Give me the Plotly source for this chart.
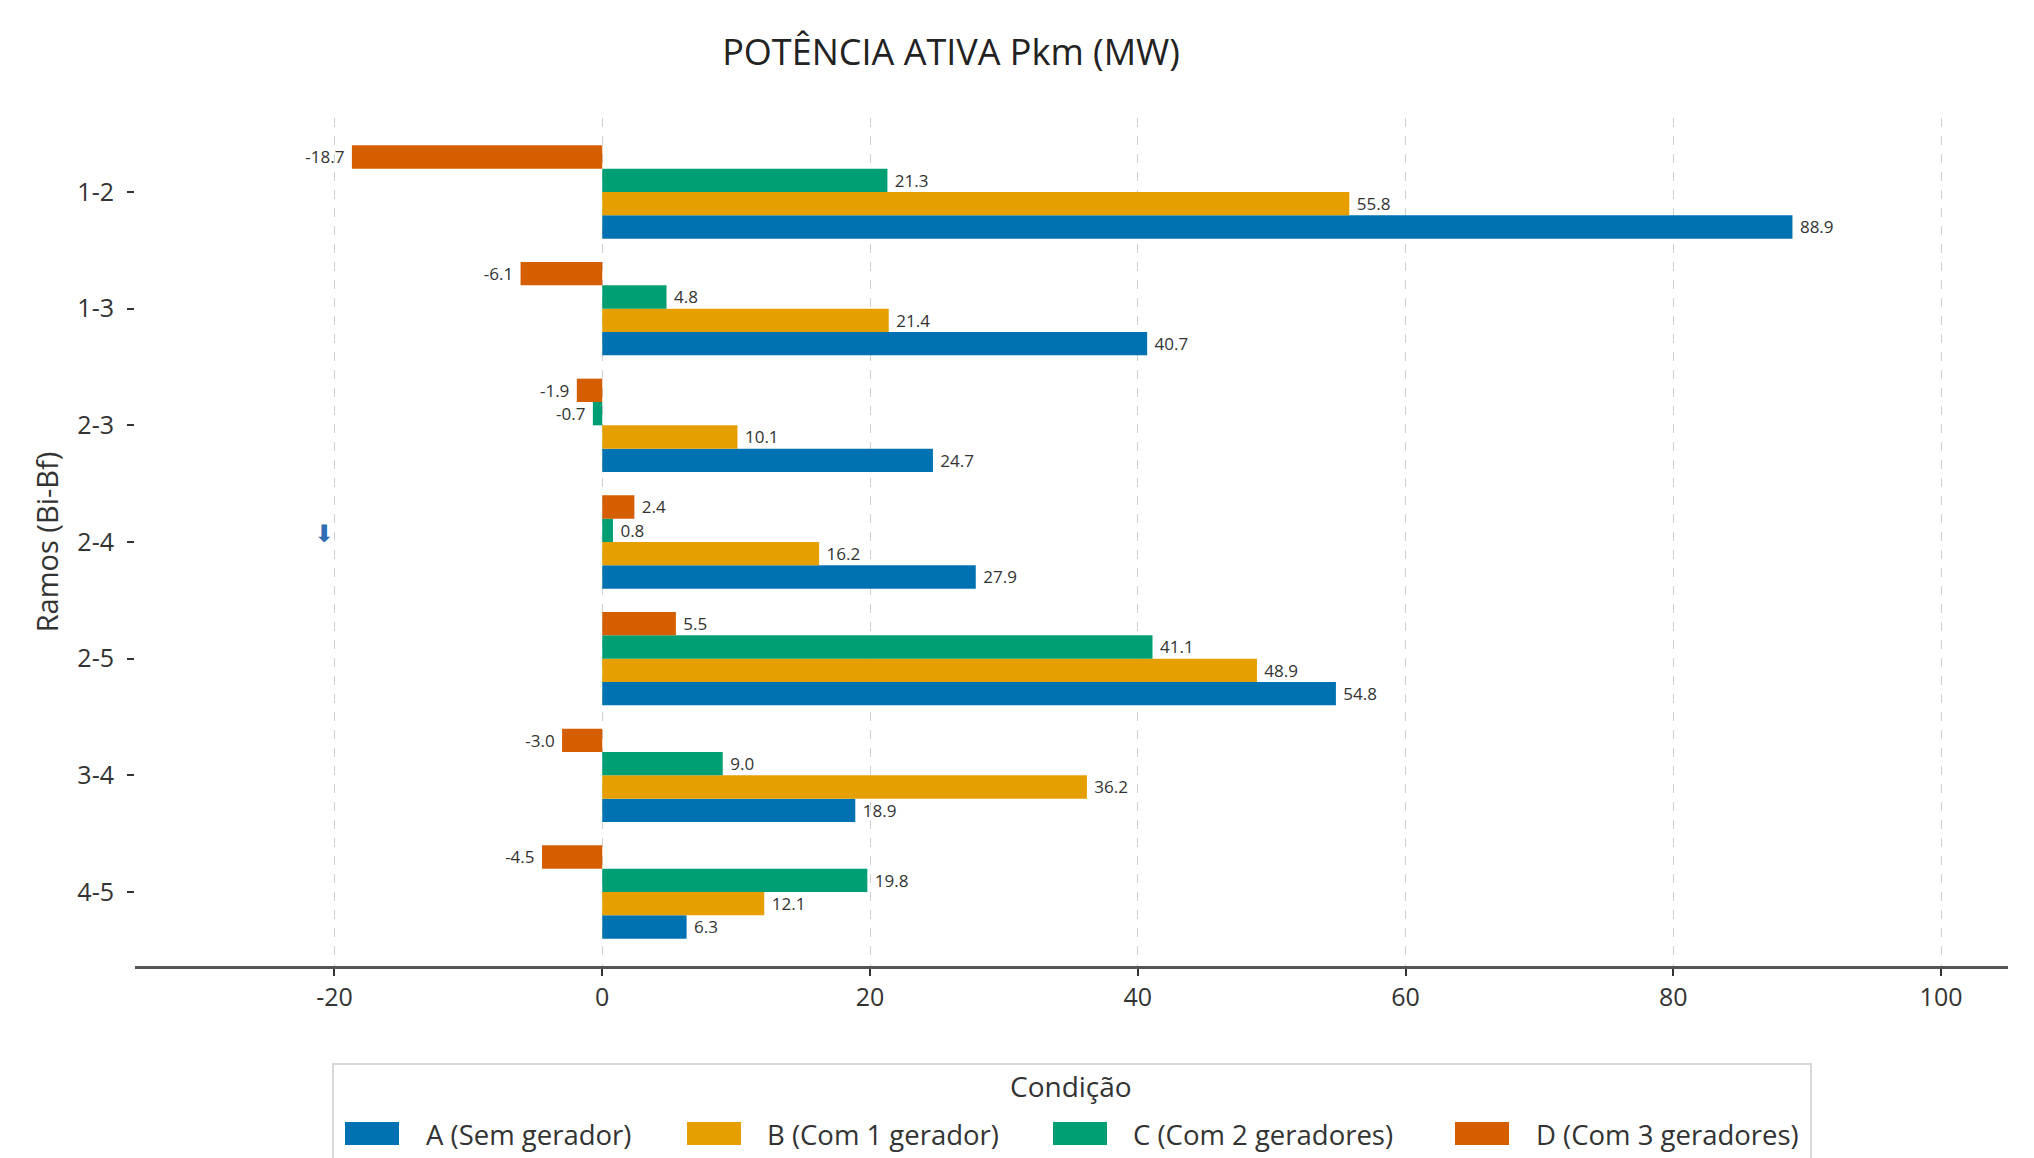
import plotly.graph_objects as go

branches = ["1-2", "1-3", "2-3", "2-4", "2-5", "3-4", "4-5"]
series_names = ["A (Sem gerador)", "B (Com 1 gerador)", "C (Com 2 geradores)", "D (Com 3 geradores)"]
vals_A = [88.9, 40.7, 24.7, 27.9, 54.8, 18.9, 6.3]
vals_B = [55.8, 21.4, 10.1, 16.2, 48.9, 36.2, 12.1]
vals_C = [21.3, 4.8, -0.7, 0.8, 41.1, 9.0, 19.8]
vals_D = [-18.7, -6.1, -1.9, 2.4, 5.5, -3.0, -4.5]
colors = ["#0072B2", "#E69F00", "#009E73", "#D55E00"]
x_ticks = [-20, 0, 20, 40, 60, 80, 100]

FONT = "Open Sans, Roboto, sans-serif"
W, H = 2034, 1158
ML, MR, MT, MB = 135, 26, 118, 192
PW, PH = W - ML - MR, H - MT - MB


def px_x(X):
    return (X - ML) / PW


def px_y(Y):
    return (H - MB - Y) / PH


def label(v):
    return f" {v:.1f}" if v >= 0 else f"{v:.1f} "


fig = go.Figure()
for name, vals, col in zip(series_names, [vals_A, vals_B, vals_C, vals_D], colors):
    fig.add_trace(go.Bar(
        y=branches, x=vals, name=name, orientation="h",
        marker=dict(color=col, line=dict(width=0)),
        text=[label(v) for v in vals], textposition="outside",
        textfont=dict(size=19, color="#333333", family=FONT),
        cliponaxis=False, showlegend=False,
    ))

fig.add_annotation(x=-20.8, y="2-4", text="⬇", showarrow=False, yshift=8,
                   font=dict(size=24, color="#2f6db5", family="DejaVu Sans"))

# legend drawn as shapes + text
shapes = [dict(type="rect", xref="paper", yref="paper",
               x0=px_x(333), x1=px_x(1811), y0=px_y(1175), y1=px_y(1064),
               line=dict(color="#d8d8d8", width=2), fillcolor="white", layer="above")]
annotations = [dict(xref="paper", yref="paper", x=px_x(1071), y=px_y(1086),
                    text="Condição", showarrow=False, xanchor="center", yanchor="middle",
                    font=dict(size=28, color="#333333", family=FONT))]
sw_x = [345, 687, 1053, 1455]
tx_x = [424, 765, 1131, 1534]
for name, col, sx, tx in zip(series_names, colors, sw_x, tx_x):
    shapes.append(dict(type="rect", xref="paper", yref="paper",
                       x0=px_x(sx), x1=px_x(sx + 54), y0=px_y(1145), y1=px_y(1122),
                       line=dict(width=0), fillcolor=col, layer="above"))
    annotations.append(dict(xref="paper", yref="paper", x=px_x(tx), y=px_y(1134),
                            text=name, showarrow=False, xanchor="left", yanchor="middle",
                            font=dict(size=27.5, color="#333333", family=FONT)))

fig.update_layout(
    width=W, height=H,
    paper_bgcolor="white", plot_bgcolor="white",
    barmode="group", bargap=0.2, bargroupgap=0,
    margin=dict(l=ML, r=MR, t=MT, b=MB, autoexpand=False),
    font=dict(family=FONT, color="#333333"),
    title=dict(text="POTÊNCIA ATIVA Pkm (MW)", x=0.4676, xanchor="center",
               y=1 - 52 / H, yanchor="middle",
               font=dict(size=36, color="#222222", family=FONT)),
    showlegend=False,
    shapes=shapes,
)
for a in annotations:
    fig.add_annotation(**a)

fig.update_xaxes(
    range=[-34.9, 105.0], tickvals=x_ticks, ticktext=[str(v) for v in x_ticks],
    showgrid=True, gridcolor="#d0d0d0", griddash="dash", gridwidth=1,
    zeroline=False, showline=True, linecolor="#555555", linewidth=3,
    ticks="outside", ticklen=7, tickcolor="#333333", tickwidth=2,
    tickfont=dict(size=25, color="#333333"),
)
fig.update_yaxes(
    type="category", categoryorder="array", categoryarray=list(reversed(branches)),
    range=[-0.634, 6.634], showgrid=False, zeroline=False, showline=False,
    ticks="outside", ticklen=7, tickcolor="#333333", tickwidth=2,
    ticklabelstandoff=8,
    tickfont=dict(size=25, color="#333333"),
    title=dict(text="Ramos (Bi-Bf)", font=dict(size=29, color="#333333"), standoff=10),
)

fig.write_html("out.html")
